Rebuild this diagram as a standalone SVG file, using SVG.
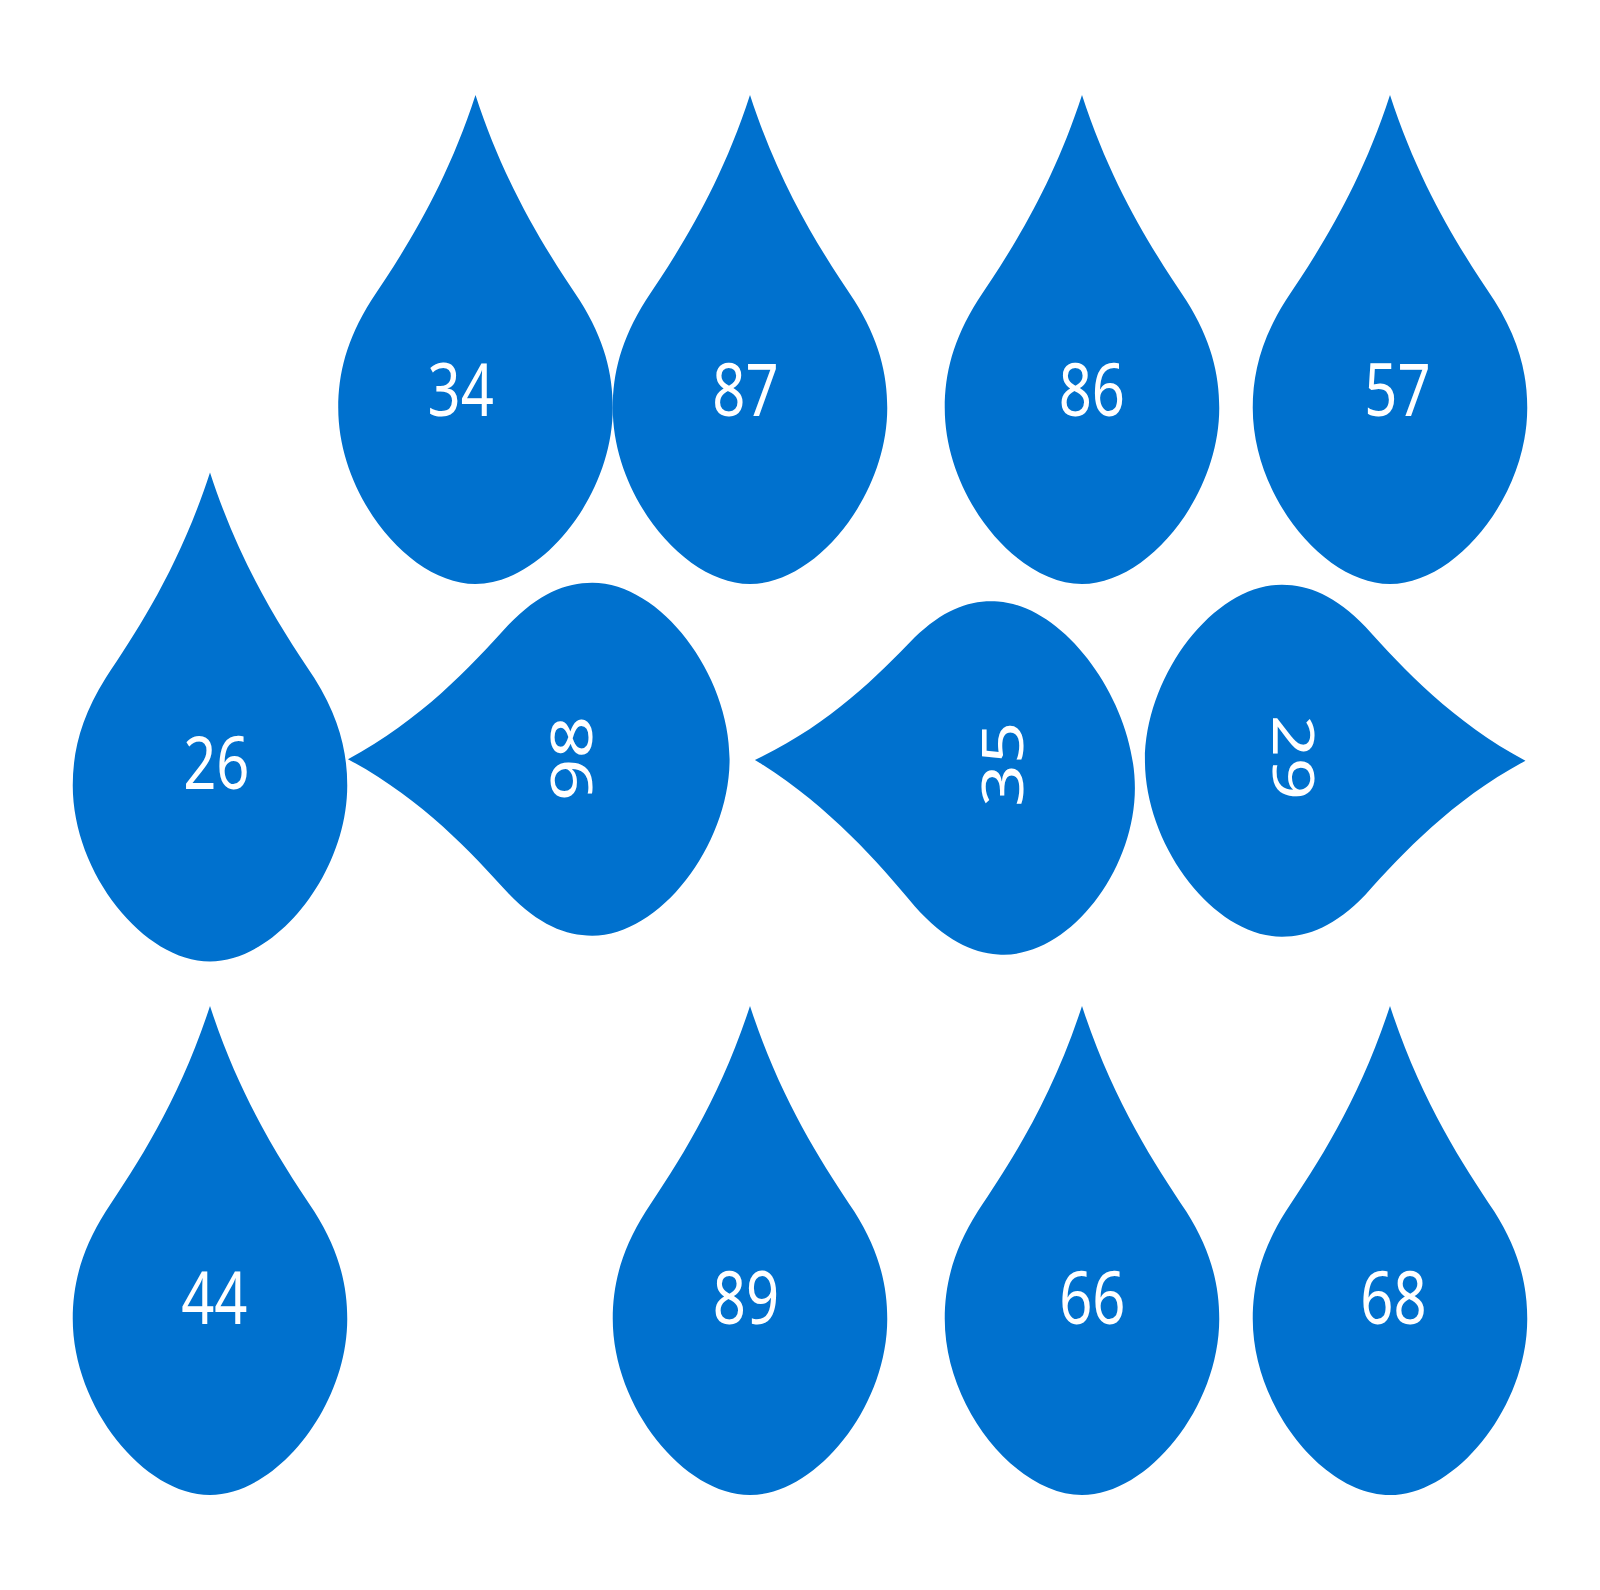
<svg xmlns="http://www.w3.org/2000/svg" width="1600" height="1590" viewBox="0 0 1600 1590">
<defs>
<path id="drop" d="M0,-50 C-11,-31 -26,-18 -38,-8 C-47,0 -50,7 -50,14 C-50,32 -24,50 0,50 C24,50 50,32 50,14 C50,7 47,0 38,-8 C26,-18 11,-31 0,-50 Z"/>
</defs>
<style>
.drop{fill:#0071ce}
.lbl{fill:#ffffff;font-family:"Noto Sans","Open Sans","DejaVu Sans",sans-serif;font-weight:400;text-anchor:middle}
.up{font-size:58px}
.rot{font-size:74.7px}
</style>
<rect width="1600" height="1590" fill="#ffffff"/>
<g id="node-34"><use href="#drop" class="drop" transform="translate(475.5,339.5) scale(2.745,4.89)"/><text class="lbl up" transform="translate(460.7,416) scale(1,1.255)">34</text></g>
<g id="node-87"><use href="#drop" class="drop" transform="translate(750,339.5) scale(2.745,4.89)"/><text class="lbl up" transform="translate(745.4,416) scale(1,1.255)">87</text></g>
<g id="node-86"><use href="#drop" class="drop" transform="translate(1082,339.5) scale(2.745,4.89)"/><text class="lbl up" transform="translate(1091.8,416) scale(1,1.255)">86</text></g>
<g id="node-57"><use href="#drop" class="drop" transform="translate(1390,339.5) scale(2.745,4.89)"/><text class="lbl up" transform="translate(1397.4,416) scale(1,1.255)">57</text></g>
<g id="node-26"><use href="#drop" class="drop" transform="translate(210,717) scale(2.745,4.89)"/><text class="lbl up" transform="translate(216.3,788.5) scale(1,1.255)">26</text></g>
<g id="node-98"><use href="#drop" class="drop" transform="translate(538.8,759.2) rotate(-90) scale(3.53,3.816)"/><text class="lbl rot" transform="translate(591.7,758.5) rotate(-90) scale(1,0.762)">98</text></g>
<g id="node-35"><use href="#drop" class="drop" transform="translate(944.9,774) rotate(-90) scale(3.53,3.8) skewX(-4.56)"/><text class="lbl rot" transform="translate(1023.3,764.2) rotate(-90) scale(1,0.762)">35</text></g>
<g id="node-29"><use href="#drop" class="drop" transform="translate(1335.2,760.7) rotate(90) scale(3.52,3.805)"/><text class="lbl rot" transform="translate(1273.3,757.5) rotate(90) scale(1,0.762)">29</text></g>
<g id="node-44"><use href="#drop" class="drop" transform="translate(210,1250.5) scale(2.745,4.89)"/><text class="lbl up" transform="translate(214.3,1324) scale(1,1.255)">44</text></g>
<g id="node-89"><use href="#drop" class="drop" transform="translate(750,1250.5) scale(2.745,4.89)"/><text class="lbl up" transform="translate(745.9,1324) scale(1,1.255)">89</text></g>
<g id="node-66"><use href="#drop" class="drop" transform="translate(1082,1250.5) scale(2.745,4.89)"/><text class="lbl up" transform="translate(1092.3,1324) scale(1,1.255)">66</text></g>
<g id="node-68"><use href="#drop" class="drop" transform="translate(1390,1250.5) scale(2.745,4.89)"/><text class="lbl up" transform="translate(1393.4,1324) scale(1,1.255)">68</text></g>
</svg>
